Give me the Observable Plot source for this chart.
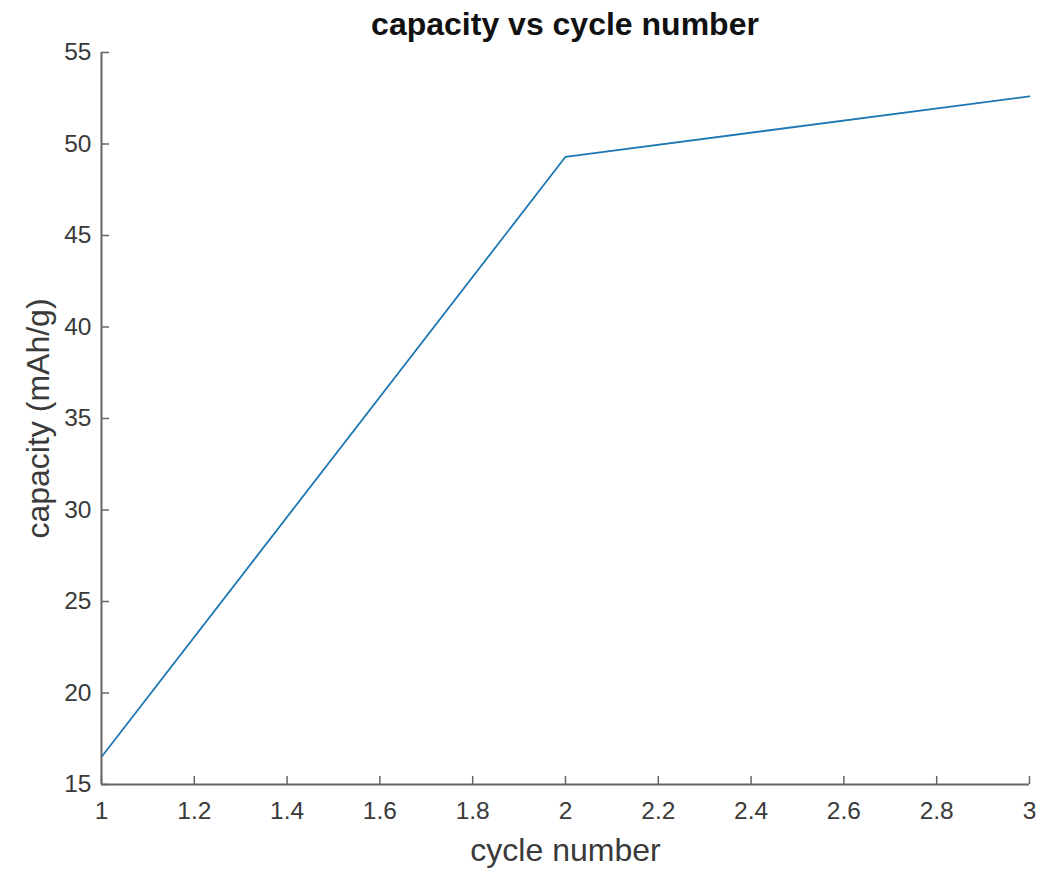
<!DOCTYPE html>
<html>
<head>
<meta charset="utf-8">
<script src="https://cdn.jsdelivr.net/npm/d3@7"></script>
<script src="https://cdn.jsdelivr.net/npm/@observablehq/plot@0.6"></script>
<style>
  html, body { margin: 0; padding: 0; background: #fff; }
  #title {
    height: 28px; line-height: 48px;
    margin-left: 101px; width: 928px; text-align: center;
    font-family: "Liberation Sans", Arial, sans-serif;
    font-weight: bold; font-size: 32px; color: #111;
    white-space: nowrap;
  }
</style>
</head>
<body>
<div id="title">capacity vs cycle number</div>
<div id="chart"></div>
<script>
const cycles = [1, 2, 3];
const capacity = [16.5, 49.3, 52.6];
const xTicks = [1, 1.2, 1.4, 1.6, 1.8, 2, 2.2, 2.4, 2.6, 2.8, 3];
const yTicks = [15, 20, 25, 30, 35, 40, 45, 50, 55];
const xLabel = "cycle number";
const yLabel = "capacity (mAh/g)";

const data = cycles.map((c, i) => ({cycle: c, capacity: capacity[i]}));

const W = 1041, H = 841;
const mL = 101, mR = 12, mT = 24, mB = 85;
const plotW = W - mL - mR, plotH = H - mT - mB;
const axisColor = "#666";
const textColor = "#3a3a3a";
const tickLen = 8;

const chart = Plot.plot({
  width: W, height: H,
  marginLeft: mL, marginRight: mR, marginTop: mT, marginBottom: mB,
  style: {fontFamily: "'Liberation Sans', Arial, sans-serif", background: "#fff", color: textColor, overflow: "visible"},
  x: {domain: [1, 3]},
  y: {domain: [15, 55]},
  marks: [
    Plot.axisX(xTicks, {tickSize: 0, tickPadding: 17, fontSize: 24.5, fill: textColor, label: null,
      tickFormat: d => String(d)}),
    Plot.axisY(yTicks, {tickSize: 0, tickPadding: 10, fontSize: 24.5, fill: textColor, label: null,
      tickFormat: d => String(d)}),
    Plot.ruleX(xTicks, {x: d => d, insetTop: plotH - tickLen, stroke: axisColor, strokeWidth: 1.5}),
    Plot.ruleY(yTicks, {y: d => d, insetRight: plotW - tickLen, stroke: axisColor, strokeWidth: 1.5}),
    Plot.line(data, {x: "cycle", y: "capacity", stroke: "#1f77b4", strokeWidth: 1.8}),
    Plot.ruleY([15], {stroke: axisColor, strokeWidth: 2}),
    Plot.ruleX([1], {stroke: axisColor, strokeWidth: 2}),
    Plot.text([xLabel], {frameAnchor: "bottom", dy: 66, lineAnchor: "middle", textAnchor: "middle", fontSize: 32, fill: textColor, text: d => d}),
    Plot.text([yLabel], {frameAnchor: "left", dx: -63, rotate: -90, lineAnchor: "middle", textAnchor: "middle", fontSize: 32, fill: textColor, text: d => d})
  ]
});
document.getElementById("chart").appendChild(chart);
</script>
</body>
</html>
